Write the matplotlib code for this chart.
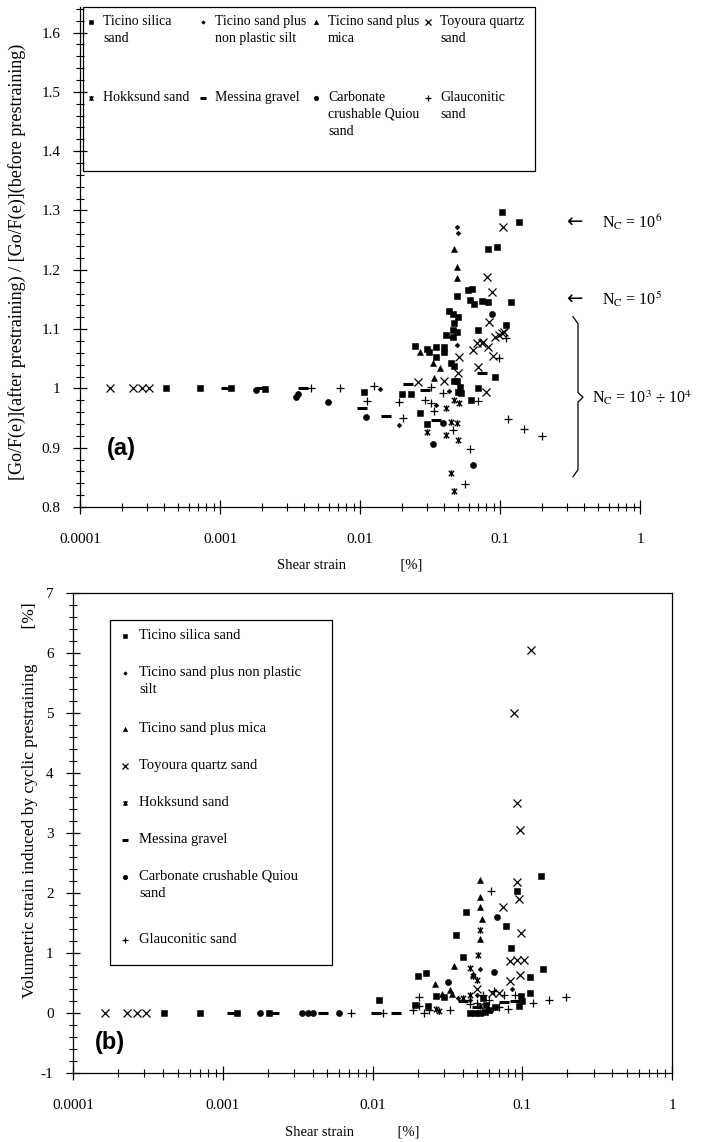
import matplotlib
matplotlib.use('Agg')
import matplotlib.pyplot as plt
from matplotlib.path import Path
from matplotlib.lines import Line2D
from matplotlib.patches import Rectangle
from matplotlib.transforms import blended_transform_factory
from matplotlib.ticker import FixedLocator, MultipleLocator, FuncFormatter, LogLocator, NullFormatter

plt.rcParams['font.family'] = ['Liberation Serif', 'DejaVu Serif']
plt.rcParams['mathtext.fontset'] = 'stix'

# ---------------- data : panel (a)  Go ratio vs shear strain ----------------
a_silica_x = [4.1e-4, 7.2e-4, 1.2e-3, 2.1e-3, 0.0107, 0.0199, 0.0231, 0.0247, 0.030, 0.035, 0.040, 0.031,
              0.035, 0.040, 0.045, 0.047, 0.041, 0.046, 0.049, 0.047, 0.049, 0.052, 0.050, 0.053, 0.070,
              0.092, 0.062, 0.027, 0.030, 0.043, 0.046, 0.050, 0.047, 0.046, 0.049, 0.059, 0.063, 0.061,
              0.065, 0.074, 0.082, 0.120, 0.070, 0.110, 0.082, 0.095, 0.103, 0.137]
a_silica_y = [1.0, 1.0, 1.0, 0.999, 0.994, 0.99, 0.99, 1.072, 1.066, 1.07, 1.07, 1.061, 1.053, 1.061,
              1.043, 1.038, 1.09, 1.087, 1.095, 1.012, 1.012, 1.002, 0.994, 0.992, 1.0, 1.019, 0.98,
              0.958, 0.94, 1.13, 1.125, 1.12, 1.11, 1.098, 1.156, 1.166, 1.168, 1.149, 1.142, 1.148,
              1.146, 1.146, 1.098, 1.107, 1.235, 1.238, 1.297, 1.281]
a_silt_x = [0.0139, 0.019, 0.035, 0.043, 0.045, 0.049, 0.049, 0.050]
a_silt_y = [0.999, 0.938, 0.972, 0.996, 1.087, 1.073, 1.272, 1.262]
a_mica_x = [0.027, 0.033, 0.034, 0.037, 0.047, 0.049, 0.049]
a_mica_y = [1.061, 1.043, 1.017, 1.034, 1.235, 1.205, 1.186]
a_toyoura_x = [1.65e-4, 2.4e-4, 2.75e-4, 3.1e-4, 0.026, 0.040, 0.050, 0.051, 0.064, 0.068, 0.070, 0.074,
               0.075, 0.080, 0.082, 0.084, 0.089, 0.092, 0.098, 0.103, 0.107, 0.081, 0.088, 0.105]
a_toyoura_y = [1.0, 1.0, 1.0, 1.0, 1.01, 1.012, 1.026, 1.053, 1.065, 1.076, 1.036, 1.077, 1.078, 0.994,
               1.07, 1.112, 1.055, 1.087, 1.09, 1.093, 1.095, 1.188, 1.163, 1.272]
a_hokksund_x = [0.030, 0.041, 0.041, 0.045, 0.047, 0.049, 0.050, 0.051, 0.045, 0.047]
a_hokksund_y = [0.926, 0.967, 0.921, 0.943, 0.98, 0.942, 0.913, 0.975, 0.857, 0.827]
a_messina_x = [1.1e-3, 2.0e-3, 3.9e-3, 0.0103, 0.0154, 0.022, 0.029, 0.035, 0.074]
a_messina_y = [1.0, 1.0, 1.0, 0.967, 0.953, 1.007, 0.997, 0.947, 1.026]
a_carbonate_x = [1.8e-3, 3.5e-3, 3.6e-3, 5.9e-3, 0.0111, 0.033, 0.039, 0.064, 0.088]
a_carbonate_y = [0.997, 0.985, 0.99, 0.977, 0.952, 0.906, 0.942, 0.871, 1.125]
a_glauc_x = [4.5e-3, 7.2e-3, 0.0113, 0.0125, 0.019, 0.0204, 0.029, 0.032, 0.032, 0.034, 0.039, 0.046,
             0.056, 0.061, 0.070, 0.098, 0.110, 0.114, 0.148, 0.200]
a_glauc_y = [1.0, 1.0, 0.979, 1.004, 0.977, 0.95, 0.98, 1.002, 0.975, 0.962, 0.992, 0.93, 0.839, 0.898,
             0.979, 1.051, 1.085, 0.948, 0.932, 0.92]

# ---------------- data : panel (b)  volumetric strain vs shear strain ----------------
b_silica_x = [4.07e-4, 7.1e-4, 1.25e-3, 2.04e-3, 0.011, 0.0191, 0.020, 0.0228, 0.0235, 0.0265, 0.030,
              0.036, 0.040, 0.042, 0.045, 0.048, 0.052, 0.055, 0.056, 0.057, 0.060, 0.066, 0.078, 0.084,
              0.0925, 0.095, 0.098, 0.100, 0.112, 0.113, 0.133, 0.137]
b_silica_y = [0, 0, 0, 0, 0.21, 0.14, 0.61, 0.67, 0.11, 0.28, 0.27, 1.30, 0.94, 1.68, 0.0, 0.0, 0.0,
              0.25, 0.02, 0.14, 0.05, 0.10, 1.45, 1.08, 2.03, 0.11, 0.28, 0.20, 0.34, 0.60, 2.28, 0.73]
b_silt_x = [0.037, 0.045, 0.050, 0.052, 0.062, 0.085]
b_silt_y = [0.25, 0.22, 0.30, 0.74, 0.03, 0.40]
b_mica_x = [0.052, 0.052, 0.052, 0.054, 0.052, 0.026, 0.035, 0.033, 0.034, 0.029, 0.047]
b_mica_y = [2.22, 1.93, 1.77, 1.56, 1.23, 0.49, 0.78, 0.39, 0.31, 0.31, 0.65]
b_toyoura_x = [1.63e-4, 2.3e-4, 2.67e-4, 3.07e-4, 0.115, 0.088, 0.0925, 0.097, 0.0925, 0.095, 0.074,
               0.098, 0.083, 0.092, 0.103, 0.096, 0.083, 0.070, 0.063, 0.050]
b_toyoura_y = [0, 0, 0, 0, 6.05, 5.0, 3.5, 3.05, 2.18, 1.9, 1.77, 1.33, 0.87, 0.89, 0.89, 0.64, 0.54,
               0.33, 0.34, 0.40]
b_hokksund_x = [0.0265, 0.028, 0.052, 0.051, 0.045, 0.050, 0.047, 0.040, 0.052, 0.045]
b_hokksund_y = [0.07, 0.03, 1.38, 0.97, 0.75, 0.55, 0.62, 0.25, 0.12, 0.30]
b_messina_x = [1.15e-3, 2.2e-3, 4.7e-3, 0.0105, 0.0144, 0.040, 0.075, 0.090, 0.050]
b_messina_y = [0, 0, 0, 0, 0, 0.20, 0.18, 0.20, 0.10]
b_carbonate_x = [1.77e-3, 3.4e-3, 3.7e-3, 4.0e-3, 6.0e-3, 0.032, 0.068, 0.065]
b_carbonate_y = [0, 0, 0, 0, 0, 0.51, 1.60, 0.69]
b_glauc_x = [7.2e-3, 0.0117, 0.0185, 0.0205, 0.0205, 0.022, 0.024, 0.033, 0.045, 0.050, 0.055, 0.060,
             0.062, 0.065, 0.070, 0.075, 0.080, 0.090, 0.118, 0.150, 0.196]
b_glauc_y = [0, 0, 0.05, 0.11, 0.27, 0.0, 0.05, 0.05, 0.15, 0.17, 0.30, 0.22, 2.03, 0.36, 0.10, 0.30,
             0.06, 0.30, 0.17, 0.21, 0.27]

x_tick_values = [1e-4, 1e-3, 1e-2, 1e-1, 1]
x_tick_labels = ['0.0001', '0.001', '0.01', '0.1', '1']

legend_a_labels = ["Ticino silica\nsand", "Ticino sand plus\nnon plastic silt", "Ticino sand plus\nmica",
                   "Toyoura quartz\nsand", "Hokksund sand", "Messina gravel",
                   "Carbonate\ncrushable Quiou\nsand", "Glauconitic\nsand"]
legend_b_labels = ["Ticino silica sand", "Ticino sand plus non plastic\nsilt", "Ticino sand plus mica",
                   "Toyoura quartz sand", "Hokksund sand", "Messina gravel",
                   "Carbonate crushable Quiou\nsand", "Glauconitic sand"]

# N_c levels annotated in panel (a)
nc_labels = [r'N$_\mathrm{C}$ = 10$^6$', r'N$_\mathrm{C}$ = 10$^5$', r'N$_\mathrm{C}$ = 10$^3$ $\div$ 10$^4$']
nc_levels = [1.28, 1.15, 0.985]
nc_brace = (1.115, 0.857)

# ---------------- styles ----------------
star = Path([(-1, -1), (1, 1), (-1, 1), (1, -1), (0, -1.25), (0, 1.25)],
            [Path.MOVETO, Path.LINETO, Path.MOVETO, Path.LINETO, Path.MOVETO, Path.LINETO])
styles = [
    dict(marker='s', ms=4.2, mew=0.4),
    dict(marker='D', ms=2.4, mew=0.4),
    dict(marker='^', ms=4.2, mew=0.4),
    dict(marker='x', ms=5.5, mew=0.9),
    dict(marker=star, ms=4.8, mew=1.0),
    dict(marker='_', ms=6.5, mew=2.2),
    dict(marker='o', ms=4.4, mew=0.4),
    dict(marker='+', ms=5.5, mew=0.9),
]

W, H = 703, 1142
fig = plt.figure(figsize=(W / 100, H / 100), dpi=100)


def fx(px):
    return px / W


def fy(py):
    return 1 - py / H


def style_axis(ax, ymajor, yminor, yfmt):
    ax.set_xscale('log')
    ax.xaxis.set_major_locator(FixedLocator(x_tick_values))
    ax.xaxis.set_major_formatter(FuncFormatter(lambda v, p: x_tick_labels[x_tick_values.index(v)]
                                               if v in x_tick_values else ''))
    ax.xaxis.set_minor_locator(LogLocator(base=10, subs=[2, 3, 4, 5, 6, 7, 8, 9], numticks=20))
    ax.xaxis.set_minor_formatter(NullFormatter())
    ax.yaxis.set_major_locator(MultipleLocator(ymajor))
    ax.yaxis.set_minor_locator(MultipleLocator(yminor))
    ax.yaxis.set_major_formatter(FuncFormatter(yfmt))
    ax.tick_params(which='major', direction='inout', length=10, width=0.9, labelsize=11,
                   top=False, right=False)
    ax.tick_params(which='minor', direction='inout', length=6, width=0.8, top=False, right=False)
    ax.tick_params(axis='x', which='major', pad=14)
    ax.tick_params(axis='y', which='major', pad=9)
    for s in ax.spines.values():
        s.set_linewidth(0.9)


def plot_series(ax, xs, ys):
    for x, y, st in zip(xs, ys, styles):
        ax.plot(x, y, linestyle='none', color='k', mfc='k', mec='k', clip_on=False, **st)


def fmt_a(v, p):
    s = f'{v:.1f}'
    return '1' if s == '1.0' else s


def fmt_b(v, p):
    return f'{int(round(v))}'


# ---------------- panel (a) ----------------
ax_a = fig.add_axes([fx(80), fy(507), fx(640) - fx(80), (507 - 7) / H])
style_axis(ax_a, 0.1, 0.02, fmt_a)
ax_a.set_xlim(1e-4, 1)
ax_a.set_ylim(0.8, 0.8 + 500 / 593)
ax_a.spines['top'].set_visible(False)
ax_a.spines['right'].set_visible(False)
plot_series(ax_a,
            [a_silica_x, a_silt_x, a_mica_x, a_toyoura_x, a_hokksund_x, a_messina_x, a_carbonate_x, a_glauc_x],
            [a_silica_y, a_silt_y, a_mica_y, a_toyoura_y, a_hokksund_y, a_messina_y, a_carbonate_y, a_glauc_y])

# legend (a)
fig.add_artist(Rectangle((fx(83), fy(171)), fx(535) - fx(83), (171 - 7) / H, transform=fig.transFigure,
                         fill=False, edgecolor='k', linewidth=0.9))
col_x = [91, 203, 316, 428]
row_y = [22, 98]
for i, (lab, st) in enumerate(zip(legend_a_labels, styles)):
    mx = col_x[i % 4]
    my = row_y[i // 4]
    st2 = dict(st)
    st2['ms'] = st['ms'] * 0.75
    fig.add_artist(Line2D([fx(mx)], [fy(my)], transform=fig.transFigure, linestyle='none',
                          color='k', mfc='k', mec='k', **st2))
    fig.text(fx(mx + 12), fy(my - 7), lab, ha='left', va='top', fontsize=10, linespacing=1.4)

fig.text(fx(17), fy(262), '[Go/F(e)](after prestraining) / [Go/F(e)](before prestraining)',
         rotation=90, ha='center', va='center', fontsize=13)
fig.text(fx(350), fy(565), 'Shear strain               [%]', ha='center', va='center', fontsize=10.5)
fig.text(fx(107), fy(448), '(a)', ha='left', va='center', fontsize=17, fontweight='bold',
         family='Liberation Sans')

# N_c annotations (x in figure fraction, y in data units of panel (a))
tr = blended_transform_factory(fig.transFigure, ax_a.transData)
for lab, lev, has_arrow in zip(nc_labels, nc_levels, [True, True, False]):
    if has_arrow:
        fig.text(fx(566), lev, '\u2190', transform=tr, ha='left', va='center', fontsize=14,
                 family=['DejaVu Sans'])
        fig.text(fx(602), lev, lab, transform=tr, ha='left', va='center', fontsize=11.5)
    else:
        fig.text(fx(592), lev, lab, transform=tr, ha='left', va='center', fontsize=11.5)
bx = 578
top, bot = nc_brace
mid = nc_levels[2]
brace_x = [fx(v) for v in [bx - 5, bx, bx, bx + 5, bx, bx, bx - 5]]
brace_y = [top + 0.006, top - 0.006, mid + 0.008, mid, mid - 0.008, bot + 0.006, bot - 0.006]
fig.add_artist(Line2D(brace_x, brace_y, transform=tr, color='k', linewidth=0.9))

# ---------------- panel (b) ----------------
ax_b = fig.add_axes([fx(73), fy(1073), fx(672) - fx(73), 480 / H])
style_axis(ax_b, 1, 0.2, fmt_b)
ax_b.set_xlim(1e-4, 1.0)
ax_b.set_ylim(-1, 7)
plot_series(ax_b,
            [b_silica_x, b_silt_x, b_mica_x, b_toyoura_x, b_hokksund_x, b_messina_x, b_carbonate_x, b_glauc_x],
            [b_silica_y, b_silt_y, b_mica_y, b_toyoura_y, b_hokksund_y, b_messina_y, b_carbonate_y, b_glauc_y])

# legend (b)
fig.add_artist(Rectangle((fx(110), fy(965)), fx(332) - fx(110), (965 - 620) / H, transform=fig.transFigure,
                         fill=False, edgecolor='k', linewidth=0.9))
leg_b_y = [636, 673, 729, 766, 803, 840, 877, 940]
for lab, st, my in zip(legend_b_labels, styles, leg_b_y):
    st2 = dict(st)
    st2['ms'] = st['ms'] * 0.75
    fig.add_artist(Line2D([fx(125)], [fy(my)], transform=fig.transFigure, linestyle='none',
                          color='k', mfc='k', mec='k', **st2))
    fig.text(fx(139), fy(my - 7), lab, ha='left', va='top', fontsize=10.5, linespacing=1.4)

fig.text(fx(30), fy(800), 'Volumetric strain induced by cyclic prestraining        [%]',
         rotation=90, ha='center', va='center', fontsize=12.5)
fig.text(fx(352), fy(1132), 'Shear strain            [%]', ha='center', va='center', fontsize=10.5)
fig.text(fx(95), fy(1042), '(b)', ha='left', va='center', fontsize=17, fontweight='bold',
         family='Liberation Sans')

fig.savefig('out.png', dpi=100)
